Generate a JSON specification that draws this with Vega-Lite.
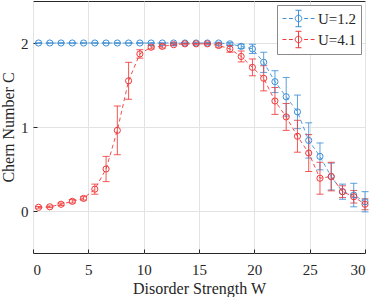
{
  "$schema": "https://vega.github.io/schema/vega-lite/v6.json",
  "width": 332,
  "height": 252,
  "autosize": {"type": "none"},
  "padding": {"left": 33, "top": 1, "right": 9, "bottom": 44},
  "config": {
    "font": "Liberation Serif",
    "view": {"stroke": "#262626", "strokeWidth": 1},
    "axis": {
      "domain": false,
      "gridColor": "#e3e3e3",
      "gridWidth": 1,
      "tickColor": "#262626",
      "labelFont": "Liberation Serif",
      "labelFontSize": 15,
      "labelColor": "#262626",
      "titleFont": "Liberation Serif",
      "titleFontSize": 16,
      "titleFontWeight": "normal",
      "titleColor": "#262626"
    },
    "legend": {
      "orient": "top-right",
      "offset": 4,
      "padding": 4,
      "rowPadding": 0,
      "fillColor": "white",
      "strokeColor": "#8a8a8a",
      "symbolType": "M-1.85,0H-1.4M-1.1,0H-0.65M0.38,0A0.38,0.38,0,1,1,-0.38,0A0.38,0.38,0,1,1,0.38,0M0,-0.95V0.95M-0.35,-0.95H0.35M-0.35,0.95H0.35M0.65,0H1.1M1.4,0H1.85",
      "symbolSize": 300,
      "symbolOffset": 8,
      "symbolStrokeWidth": 1,
      "symbolFillColor": "white",
      "symbolOpacity": 1,
      "labelFont": "Liberation Serif",
      "labelFontSize": 15,
      "labelColor": "#262626",
      "labelOffset": 10
    }
  },
  "data": {
    "values": [
      {"W": 0.5, "C": 2.0, "err": 0.0, "U": "U=1.2"},
      {"W": 1.517, "C": 2.0, "err": 0.0, "U": "U=1.2"},
      {"W": 2.534, "C": 2.0, "err": 0.0, "U": "U=1.2"},
      {"W": 3.552, "C": 2.0, "err": 0.0, "U": "U=1.2"},
      {"W": 4.569, "C": 2.0, "err": 0.0, "U": "U=1.2"},
      {"W": 5.586, "C": 2.0, "err": 0.0, "U": "U=1.2"},
      {"W": 6.603, "C": 2.0, "err": 0.0, "U": "U=1.2"},
      {"W": 7.621, "C": 2.0, "err": 0.0, "U": "U=1.2"},
      {"W": 8.638, "C": 2.0, "err": 0.0, "U": "U=1.2"},
      {"W": 9.655, "C": 2.0, "err": 0.0, "U": "U=1.2"},
      {"W": 10.672, "C": 2.0, "err": 0.0, "U": "U=1.2"},
      {"W": 11.69, "C": 2.0, "err": 0.0, "U": "U=1.2"},
      {"W": 12.707, "C": 2.0, "err": 0.0, "U": "U=1.2"},
      {"W": 13.724, "C": 2.0, "err": 0.0, "U": "U=1.2"},
      {"W": 14.741, "C": 2.0, "err": 0.0, "U": "U=1.2"},
      {"W": 15.759, "C": 2.0, "err": 0.005, "U": "U=1.2"},
      {"W": 16.776, "C": 2.0, "err": 0.01, "U": "U=1.2"},
      {"W": 17.793, "C": 1.99, "err": 0.015, "U": "U=1.2"},
      {"W": 18.81, "C": 1.96, "err": 0.025, "U": "U=1.2"},
      {"W": 19.828, "C": 1.93, "err": 0.055, "U": "U=1.2"},
      {"W": 20.845, "C": 1.77, "err": 0.12, "U": "U=1.2"},
      {"W": 21.862, "C": 1.54, "err": 0.13, "U": "U=1.2"},
      {"W": 22.879, "C": 1.36, "err": 0.23, "U": "U=1.2"},
      {"W": 23.897, "C": 1.18, "err": 0.2, "U": "U=1.2"},
      {"W": 24.914, "C": 0.84, "err": 0.21, "U": "U=1.2"},
      {"W": 25.931, "C": 0.65, "err": 0.16, "U": "U=1.2"},
      {"W": 26.948, "C": 0.41, "err": 0.16, "U": "U=1.2"},
      {"W": 27.966, "C": 0.23, "err": 0.09, "U": "U=1.2"},
      {"W": 28.983, "C": 0.19, "err": 0.14, "U": "U=1.2"},
      {"W": 30.0, "C": 0.11, "err": 0.12, "U": "U=1.2"},
      {"W": 0.5, "C": 0.044, "err": 0.01, "U": "U=4.1"},
      {"W": 1.517, "C": 0.05, "err": 0.01, "U": "U=4.1"},
      {"W": 2.534, "C": 0.08, "err": 0.015, "U": "U=4.1"},
      {"W": 3.552, "C": 0.115, "err": 0.02, "U": "U=4.1"},
      {"W": 4.569, "C": 0.15, "err": 0.02, "U": "U=4.1"},
      {"W": 5.586, "C": 0.26, "err": 0.06, "U": "U=4.1"},
      {"W": 6.603, "C": 0.5, "err": 0.15, "U": "U=4.1"},
      {"W": 7.621, "C": 0.96, "err": 0.29, "U": "U=4.1"},
      {"W": 8.638, "C": 1.55, "err": 0.22, "U": "U=4.1"},
      {"W": 9.655, "C": 1.87, "err": 0.05, "U": "U=4.1"},
      {"W": 10.672, "C": 1.95, "err": 0.02, "U": "U=4.1"},
      {"W": 11.69, "C": 1.96, "err": 0.02, "U": "U=4.1"},
      {"W": 12.707, "C": 1.98, "err": 0.01, "U": "U=4.1"},
      {"W": 13.724, "C": 1.99, "err": 0.005, "U": "U=4.1"},
      {"W": 14.741, "C": 1.99, "err": 0.005, "U": "U=4.1"},
      {"W": 15.759, "C": 1.99, "err": 0.005, "U": "U=4.1"},
      {"W": 16.776, "C": 1.97, "err": 0.02, "U": "U=4.1"},
      {"W": 17.793, "C": 1.93, "err": 0.04, "U": "U=4.1"},
      {"W": 18.81, "C": 1.84, "err": 0.065, "U": "U=4.1"},
      {"W": 19.828, "C": 1.71, "err": 0.1, "U": "U=4.1"},
      {"W": 20.845, "C": 1.58, "err": 0.15, "U": "U=4.1"},
      {"W": 21.862, "C": 1.31, "err": 0.16, "U": "U=4.1"},
      {"W": 22.879, "C": 1.12, "err": 0.16, "U": "U=4.1"},
      {"W": 23.897, "C": 0.89, "err": 0.19, "U": "U=4.1"},
      {"W": 24.914, "C": 0.69, "err": 0.22, "U": "U=4.1"},
      {"W": 25.931, "C": 0.39, "err": 0.19, "U": "U=4.1"},
      {"W": 26.948, "C": 0.41, "err": 0.17, "U": "U=4.1"},
      {"W": 27.966, "C": 0.23, "err": 0.07, "U": "U=4.1"},
      {"W": 28.983, "C": 0.17, "err": 0.075, "U": "U=4.1"},
      {"W": 30.0, "C": 0.08, "err": 0.065, "U": "U=4.1"}
    ]
  },
  "layer": [
    {
      "mark": {"type": "errorbar", "ticks": {"size": 7}, "thickness": 1, "opacity": 0.85},
      "encoding": {
        "x": {
          "field": "W",
          "type": "quantitative",
          "scale": {"domain": [0, 30], "nice": false, "zero": false},
          "axis": {"values": [0, 5, 10, 15, 20, 25, 30], "format": "d", "title": "Disorder Strength W", "tickSize": -4, "labelPadding": 13, "titlePadding": 3, "labelFont": "Liberation Serif", "labelFontSize": 15}
        },
        "y": {
          "field": "C",
          "type": "quantitative",
          "scale": {"domain": [-0.5, 2.5], "nice": false, "zero": false},
          "axis": {"values": [0, 1, 2], "format": "d", "title": "Chern Number C", "tickSize": -4, "labelPadding": 9, "titlePadding": 4, "labelFont": "Liberation Serif", "labelFontSize": 15}
        },
        "yError": {"field": "err"},
        "color": {
          "field": "U",
          "type": "nominal",
          "scale": {"domain": ["U=1.2", "U=4.1"], "range": ["#3d8fd6", "#f03a3a"]},
          "legend": {"title": null, "symbolFillColor": "white", "encode": {"symbols": {"enter": {"fillOpacity": {"value": 0}}, "update": {"fill": {"value": "white"}, "fillOpacity": {"value": 0}, "strokeDash": {"value": []}}}}}
        }
      }
    },
    {
      "mark": {"type": "line", "strokeDash": [4, 3], "strokeWidth": 0.9},
      "encoding": {
        "x": {"field": "W", "type": "quantitative"},
        "y": {"field": "C", "type": "quantitative"},
        "color": {"field": "U", "type": "nominal"}
      }
    },
    {
      "mark": {"type": "point", "shape": "circle", "filled": false, "size": 38, "strokeWidth": 1, "opacity": 1},
      "encoding": {
        "x": {"field": "W", "type": "quantitative"},
        "y": {"field": "C", "type": "quantitative"},
        "color": {"field": "U", "type": "nominal"}
      }
    }
  ]
}
